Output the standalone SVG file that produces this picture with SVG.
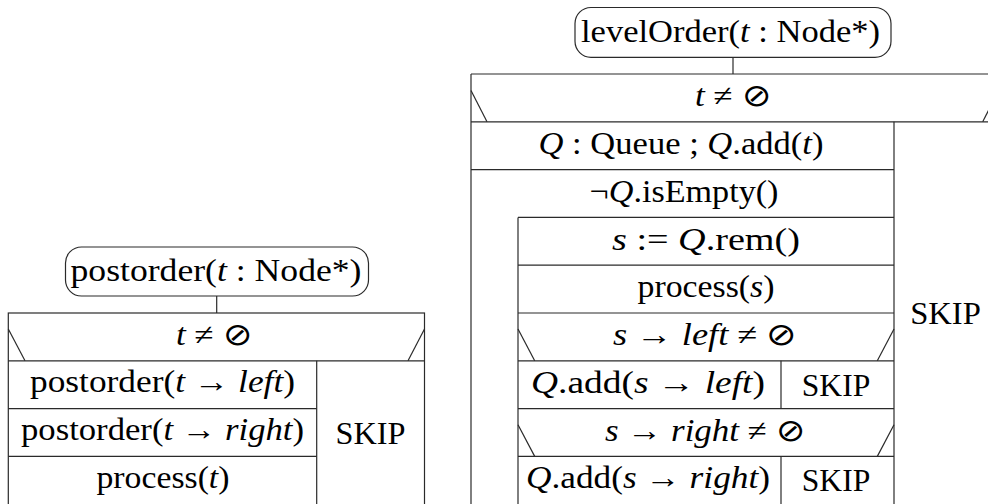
<svg xmlns="http://www.w3.org/2000/svg" width="988" height="504" viewBox="0 0 988 504">
<style>
.ln{stroke:#2a2a2a;stroke-width:1.2;fill:none}
.pill{stroke:#2a2a2a;stroke-width:1.2;fill:#fff}
.t{font-family:"Liberation Serif","Times New Roman",serif;font-size:31px;fill:#000;text-anchor:middle}
.i{font-style:italic}
</style>
<rect width="988" height="504" fill="#fff"/>
<g id="connectors">
<line class="ln" x1="216.7" y1="296" x2="216.7" y2="313"/>
<line class="ln" x1="733" y1="57.3" x2="733" y2="74"/>
</g>
<g id="postorder-start">
<rect class="pill" x="65.5" y="247" width="303" height="49" rx="16"/>
<text class="t" x="216" y="281" textLength="291" lengthAdjust="spacingAndGlyphs">postorder(<tspan class="i">t</tspan> : Node*)</text>
</g>
<g id="postorder-if">
<rect class="ln" x="8.3" y="313" width="416.2" height="195"/>
<line class="ln" x1="8.3" y1="360.8" x2="424.5" y2="360.8"/>
<line class="ln" x1="8.3" y1="329" x2="25" y2="360.8"/>
<line class="ln" x1="424.5" y1="329" x2="408" y2="360.8"/>
<line class="ln" x1="316.7" y1="360.8" x2="316.7" y2="508"/>
<text class="t" x="214" y="345" textLength="76" lengthAdjust="spacingAndGlyphs"><tspan class="i">t</tspan> ≠ ⊘</text>
<text class="t" x="370.6" y="443.5" textLength="70" lengthAdjust="spacingAndGlyphs">SKIP</text>
</g>
<g id="postorder-left">
<line class="ln" x1="8.3" y1="408.6" x2="316.7" y2="408.6"/>
<text class="t" x="162.5" y="391.5" textLength="265" lengthAdjust="spacingAndGlyphs">postorder(<tspan class="i">t</tspan> → <tspan class="i">left</tspan>)</text>
</g>
<g id="postorder-right">
<line class="ln" x1="8.3" y1="456.4" x2="316.7" y2="456.4"/>
<text class="t" x="162.5" y="440" textLength="283" lengthAdjust="spacingAndGlyphs">postorder(<tspan class="i">t</tspan> → <tspan class="i">right</tspan>)</text>
</g>
<g id="postorder-process">
<text class="t" x="163" y="488" textLength="133" lengthAdjust="spacingAndGlyphs">process(<tspan class="i">t</tspan>)</text>
</g>
<g id="levelorder-start">
<rect class="pill" x="575" y="7.5" width="316" height="49.8" rx="16"/>
<text class="t" x="730.5" y="42" textLength="299" lengthAdjust="spacingAndGlyphs">levelOrder(<tspan class="i">t</tspan> : Node*)</text>
</g>
<g id="levelorder-if">
<line class="ln" x1="471" y1="74" x2="1000" y2="74"/>
<line class="ln" x1="471" y1="74" x2="471" y2="508"/>
<line class="ln" x1="998.7" y1="74" x2="998.7" y2="508"/>
<line class="ln" x1="471" y1="121.8" x2="1000" y2="121.8"/>
<line class="ln" x1="471" y1="90.5" x2="487" y2="121.8"/>
<line class="ln" x1="998.7" y1="90.5" x2="982.7" y2="121.8"/>
<line class="ln" x1="894" y1="121.8" x2="894" y2="508"/>
<text class="t" x="733" y="106" textLength="76" lengthAdjust="spacingAndGlyphs"><tspan class="i">t</tspan> ≠ ⊘</text>
<text class="t" x="945.5" y="324" textLength="70.7" lengthAdjust="spacingAndGlyphs">SKIP</text>
</g>
<g id="queue-init">
<line class="ln" x1="471" y1="169.6" x2="894" y2="169.6"/>
<text class="t" x="681" y="154" textLength="285" lengthAdjust="spacingAndGlyphs"><tspan class="i">Q</tspan> : Queue ; <tspan class="i">Q</tspan>.add(<tspan class="i">t</tspan>)</text>
</g>
<g id="while-loop">
<line class="ln" x1="518" y1="217.4" x2="894" y2="217.4"/>
<line class="ln" x1="518" y1="217.4" x2="518" y2="508"/>
<text class="t" x="684" y="202" textLength="189" lengthAdjust="spacingAndGlyphs">¬<tspan class="i">Q</tspan>.isEmpty()</text>
</g>
<g id="remove">
<line class="ln" x1="518" y1="265.2" x2="894" y2="265.2"/>
<text class="t" x="706" y="249.5" textLength="188" lengthAdjust="spacingAndGlyphs"><tspan class="i">s</tspan> := <tspan class="i">Q</tspan>.rem()</text>
</g>
<g id="process-s">
<line class="ln" x1="518" y1="313" x2="894" y2="313"/>
<text class="t" x="706" y="297" textLength="137" lengthAdjust="spacingAndGlyphs">process(<tspan class="i">s</tspan>)</text>
</g>
<g id="if-left">
<line class="ln" x1="518" y1="360.8" x2="894" y2="360.8"/>
<line class="ln" x1="518" y1="329" x2="534.7" y2="360.8"/>
<line class="ln" x1="894" y1="329" x2="877.3" y2="360.8"/>
<line class="ln" x1="781" y1="360.8" x2="781" y2="408.6"/>
<text class="t" x="705" y="345" textLength="184" lengthAdjust="spacingAndGlyphs"><tspan class="i">s</tspan> → <tspan class="i">left</tspan> ≠ ⊘</text>
<text class="t" x="648" y="392.5" textLength="234" lengthAdjust="spacingAndGlyphs"><tspan class="i">Q</tspan>.add(<tspan class="i">s</tspan> → <tspan class="i">left</tspan>)</text>
<text class="t" x="836" y="395.5" textLength="68.5" lengthAdjust="spacingAndGlyphs">SKIP</text>
</g>
<g id="if-right">
<line class="ln" x1="518" y1="408.6" x2="894" y2="408.6"/>
<line class="ln" x1="518" y1="456.4" x2="894" y2="456.4"/>
<line class="ln" x1="518" y1="424.8" x2="534.7" y2="456.4"/>
<line class="ln" x1="894" y1="424.8" x2="877.3" y2="456.4"/>
<line class="ln" x1="781" y1="456.4" x2="781" y2="508"/>
<text class="t" x="705" y="440.5" textLength="200" lengthAdjust="spacingAndGlyphs"><tspan class="i">s</tspan> → <tspan class="i">right</tspan> ≠ ⊘</text>
<text class="t" x="648" y="488" textLength="244" lengthAdjust="spacingAndGlyphs"><tspan class="i">Q</tspan>.add(<tspan class="i">s</tspan> → <tspan class="i">right</tspan>)</text>
<text class="t" x="836" y="491" textLength="68.5" lengthAdjust="spacingAndGlyphs">SKIP</text>
</g>
</svg>
